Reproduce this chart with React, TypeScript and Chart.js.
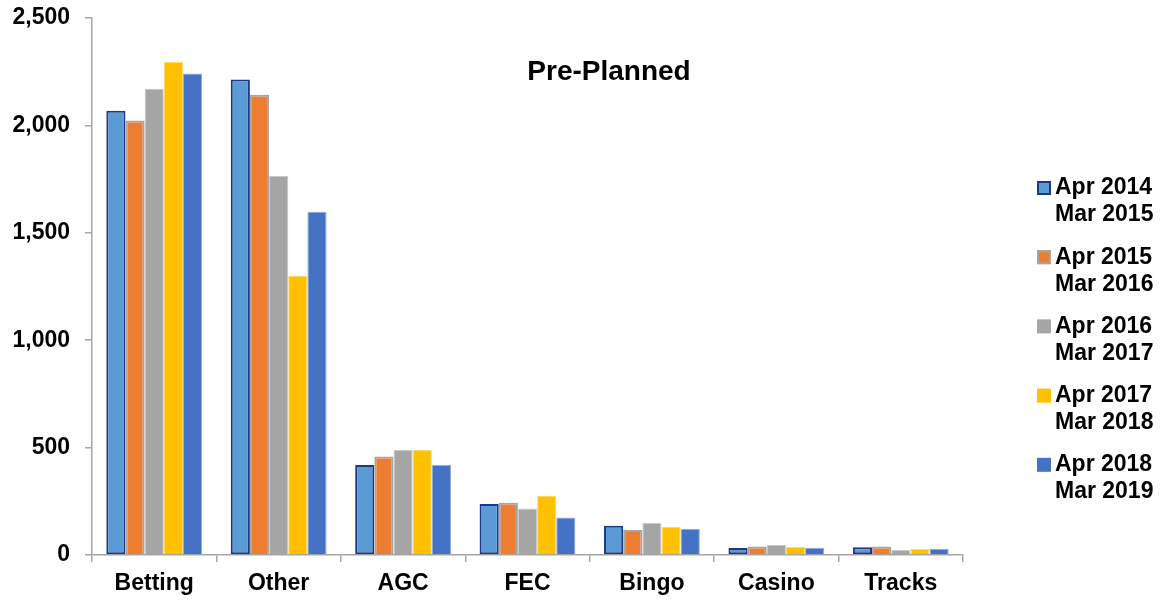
import React, { useEffect, useRef } from "react";
import { Chart, registerables } from "chart.js";

Chart.register(...registerables);

const categories = ["Betting", "Other", "AGC", "FEC", "Bingo", "Casino", "Tracks"];
const seriesLabels = [
  ["Apr 2014", "Mar 2015"],
  ["Apr 2015", "Mar 2016"],
  ["Apr 2016", "Mar 2017"],
  ["Apr 2017", "Mar 2018"],
  ["Apr 2018", "Mar 2019"],
];
const s2014 = [2068, 2214, 419, 237, 136, 33, 36];
const s2015 = [2023, 2143, 458, 243, 116, 39, 39];
const s2016 = [2171, 1764, 489, 217, 150, 47, 23];
const s2017 = [2295, 1299, 489, 275, 132, 37, 28];
const s2018 = [2242, 1598, 419, 175, 121, 34, 28];
const yTicks = [0, 500, 1000, 1500, 2000, 2500];
const chartTitle = "Pre-Planned";

const fills = ["#5B9BD5", "#ED7D31", "#A5A5A5", "#FFC000", "#4472C4"];
const borders = ["#1F3884", "#A5A5A5", "#C8C8C8", "#FFD966", "#8FAADC"];
const borderWidths = [2, 2, 1, 1, 1];
const FONT = "'Liberation Sans', Arial, sans-serif";

export default function App() {
  const ref = useRef<HTMLCanvasElement | null>(null);
  useEffect(() => {
    if (!ref.current) return;
    const values = [s2014, s2015, s2016, s2017, s2018];
    const overlay = {
      id: "overlay",
      afterDraw(chart: any) {
        const ctx = chart.ctx;
        ctx.save();
        ctx.fillStyle = "#000";
        ctx.textAlign = "center";
        ctx.textBaseline = "middle";
        ctx.font = `bold 28px ${FONT}`;
        ctx.fillText(chartTitle, chart.chartArea.left + 517, 72);
        // legend
        ctx.font = `bold 23px ${FONT}`;
        ctx.textAlign = "left";
        chart.data.datasets.forEach((ds: any, i: number) => {
          const y0 = 188 + i * 69.2;
          const bx = 1037;
          ctx.fillStyle = ds.backgroundColor;
          ctx.fillRect(bx, y0 - 7, 14, 14);
          if (ds.borderWidth > 1) {
            ctx.strokeStyle = ds.borderColor;
            ctx.lineWidth = 2;
            ctx.strokeRect(bx + 1, y0 - 6, 12, 12);
          }
          ctx.fillStyle = "#000";
          const lines = ds.legendLines as string[];
          lines.forEach((t, j) => ctx.fillText(t, 1055, y0 + j * 27));
        });
        ctx.restore();
      },
    };
    const chart = new Chart(ref.current, {
      type: "bar",
      data: {
        labels: categories,
        datasets: values.map((v, i) => ({
          label: seriesLabels[i].join(" "),
          legendLines: seriesLabels[i],
          data: v,
          backgroundColor: fills[i],
          borderColor: borders[i],
          borderWidth: borderWidths[i],
          borderSkipped: i === 0 ? false : "bottom",
        })) as any,
      },
      options: {
        animation: false,
        responsive: false,
        devicePixelRatio: 1,
        layout: { padding: { left: 0, right: 202, top: 18, bottom: 0 } },
        datasets: { bar: { categoryPercentage: 0.77, barPercentage: 1 } },
        plugins: { legend: { display: false }, title: { display: false }, tooltip: { enabled: false } },
        scales: {
          x: {
            grid: { display: true, drawOnChartArea: false, drawTicks: true, tickLength: 7, color: "#A6A6A6", lineWidth: 1.5 },
            border: { color: "#A6A6A6", width: 1.5 },
            ticks: { color: "#000", font: { family: FONT, size: 23, weight: "bold" }, padding: 8, maxRotation: 0 },
            afterFit: (s: any) => { s.height = 45; s.paddingLeft = 0; s.paddingRight = 0; },
          },
          y: {
            min: 0,
            max: 2500,
            afterBuildTicks: (s: any) => { s.ticks = yTicks.map((v) => ({ value: v })); },
            grid: { display: true, drawOnChartArea: false, drawTicks: true, tickLength: 7, color: "#A6A6A6", lineWidth: 1.5 },
            border: { color: "#A6A6A6", width: 1.5 },
            ticks: {
              color: "#000",
              font: { family: FONT, size: 23, weight: "bold" },
              padding: 15,
              callback: (v: any) => Number(v).toLocaleString("en-US"),
            },
            afterFit: (s: any) => { s.width = 92; s.paddingTop = 0; s.paddingBottom = 0; },
          },
        },
      },
      plugins: [overlay],
    });
    return () => chart.destroy();
  }, []);
  return (
    <div style={{ position: "absolute", left: 0, top: 0, width: 1165, height: 600, background: "#fff" }}>
      <canvas ref={ref} width={1165} height={600} />
    </div>
  );
}
